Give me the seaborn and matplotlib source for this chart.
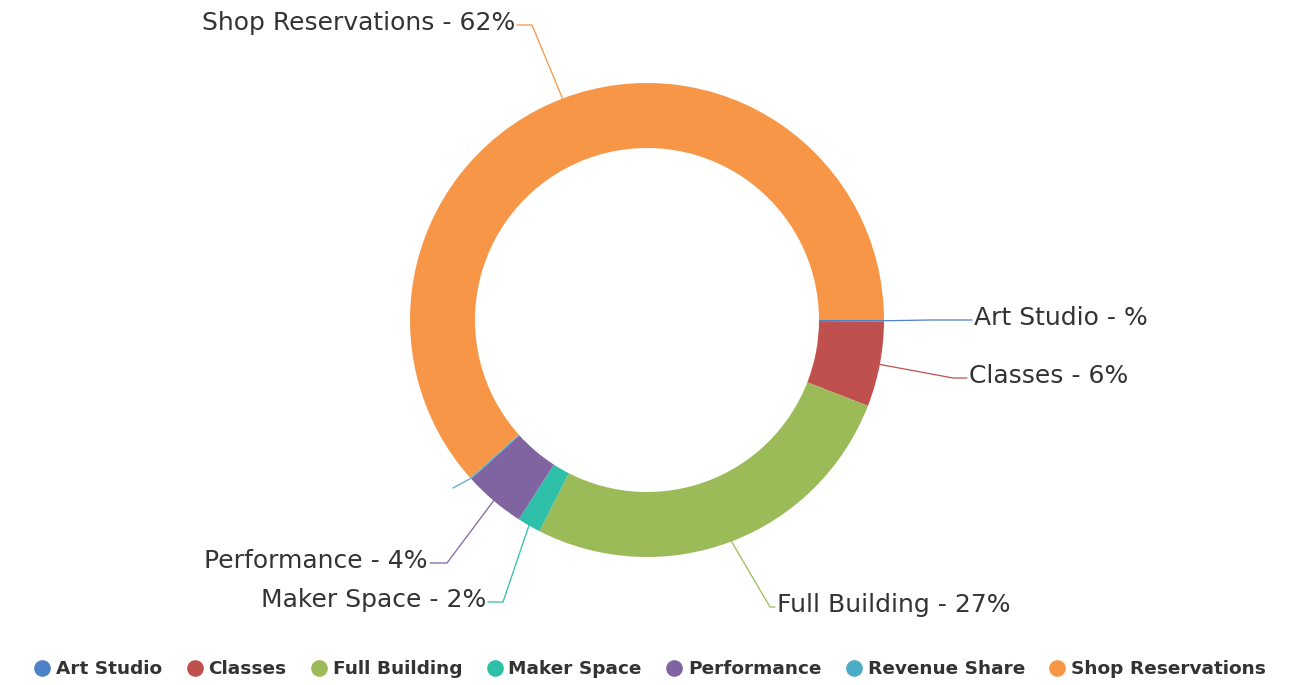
import numpy as np
import matplotlib
matplotlib.use('Agg')
import matplotlib.pyplot as plt
from matplotlib.lines import Line2D
import seaborn as sns

# data
categories = ['Art Studio', 'Classes', 'Full Building', 'Maker Space',
              'Performance', 'Revenue Share', 'Shop Reservations']
values = [0.1, 5.8, 26.6, 1.6, 4.2, 0.1, 61.6]
label_pct = ['', '6', '27', '2', '4', None, '62']
colors = ['#4f81c7', '#c0504d', '#9bbb59', '#2ebfa9', '#8064a2', '#4bacc6', '#f79646']

# layout (pixel coords of the 1299x685 picture): elbow, line end, text side
CX, CY, R = 647, 320, 237
elbows = [(930, 320), (953, 378), (770, 607), (503, 602), (447, 563), (453, 488), (532, 25)]
ends = [(972, 320), (967, 378), (775, 607), (488, 602), (430, 563), (453, 488), (517, 25)]
sides = ['left', 'left', 'left', 'right', 'right', None, 'right']

sns.set_theme(style='white')
plt.rcParams['font.family'] = ['DejaVu Sans']


def px(x, y):
    return (x - CX) / R, (CY - y) / R


fig = plt.figure(figsize=(12.99, 6.85), dpi=100)
ax = fig.add_axes([0, 0, 1, 1])
pal = sns.color_palette(colors)

wedges, _ = ax.pie(values, colors=pal, startangle=0, counterclock=False,
                   radius=1, wedgeprops=dict(width=1 - 172 / 237, linewidth=0))

for w, name, pct, el, en, side, c in zip(wedges, categories, label_pct, elbows, ends, sides, pal):
    th = np.deg2rad((w.theta1 + w.theta2) / 2)
    sx, sy = np.cos(th), np.sin(th)
    ex, ey = px(*el)
    fx, fy = px(*en)
    ax.plot([sx, ex, fx], [sy, ey, fy], color=c, lw=0.9, solid_joinstyle='miter')
    if pct is None:
        continue
    off = 2 / R if side == 'left' else -2 / R
    ax.text(fx + off, fy + 2 / R, f'{name} - {pct}%', ha=side, va='center',
            fontsize=18, color='#333333')

ax.set_xlim(-CX / R, (1299 - CX) / R)
ax.set_ylim(-(685 - CY) / R, CY / R)
ax.axis('off')

handles = [Line2D([], [], marker='o', ls='', markersize=12, markerfacecolor=c,
                  markeredgewidth=0, label=n) for n, c in zip(categories, pal)]
leg = fig.legend(handles=handles, loc='center', bbox_to_anchor=(0.5, 1 - 669 / 685),
                 ncol=7, frameon=False, fontsize=13.3, handletextpad=0.25,
                 columnspacing=1.25, handlelength=1.0)
for t in leg.get_texts():
    t.set_fontweight('bold')
    t.set_color('#333333')

fig.savefig('out.png', dpi=100, facecolor='white')
